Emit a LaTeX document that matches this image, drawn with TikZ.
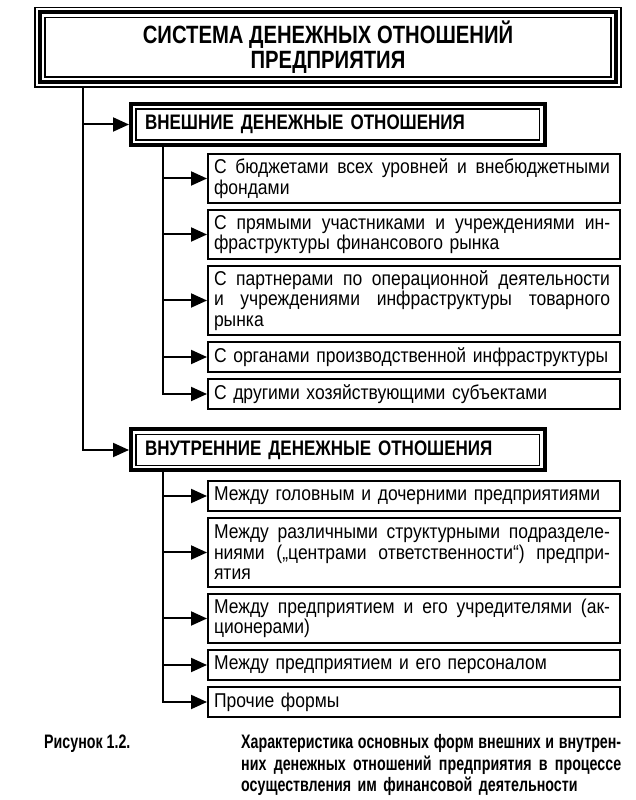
\documentclass[tikz,border=0pt]{standalone}
\usepackage{fontspec}
\setmainfont{Liberation Sans}
\newfontfamily\subfont[FakeStretch=0.875]{Liberation Sans}
\newfontfamily\bfam[FakeStretch=0.81]{Liberation Sans}
\newfontfamily\capfam[FakeStretch=0.73]{Liberation Sans}
\usetikzlibrary{arrows.meta}
\newcommand{\jline}[2][396pt]{\leavevmode\hbox to #1{\spaceskip=\fontdimen2\font plus 1fil\relax #2}}
\tikzset{
  subbox/.style={draw, line width=2pt, text width=400pt, inner xsep=6pt, inner ysep=0pt,
    align=left, font=\subfont\fontsize{20}{20.5}\selectfont},
  headbox/.style={draw, line width=4pt, minimum width=413.5pt, minimum height=41pt,
    text width=385.5pt, inner xsep=14pt, inner ysep=0pt, align=left,
    font=\bfam\bfseries\fontsize{21}{24}\selectfont},
  titlebox/.style={draw, line width=4pt, minimum width=576pt, minimum height=69.5pt,
    inner sep=0pt, align=center, font=\bfam\bfseries\fontsize{25}{25}\selectfont},
  thinframe/.style={line width=1.1pt},
  conn/.style={line width=2pt},
  arr/.style={line width=2pt, -{Triangle[length=16pt,width=14pt]}},
  captxt/.style={font=\capfam\bfseries\fontsize{19.5}{21.5}\selectfont, inner sep=0pt},
}
\begin{document}
\begin{tikzpicture}[x=1pt,y=1pt]
\useasboundingbox (0,0) rectangle (636,800);

% title
\node[titlebox] (title) at (328,752.75) {СИСТЕМА ДЕНЕЖНЫХ ОТНОШЕНИЙ\\ПРЕДПРИЯТИЯ};
\draw[thinframe] ([shift={(-3,3)}]title.north west) rectangle ([shift={(3,-3)}]title.south east);
\draw[thinframe] ([shift={(7,-7)}]title.north west) rectangle ([shift={(-7,7)}]title.south east);

% headings
\node[headbox] (ext) at (337.75,675.5) {ВНЕШНИЕ ДЕНЕЖНЫЕ ОТНОШЕНИЯ};
\draw[thinframe] ([shift={(7,-7)}]ext.north west) rectangle ([shift={(-7,7)}]ext.south east);
\node[headbox] (int) at (337.75,350) {ВНУТРЕННИЕ ДЕНЕЖНЫЕ ОТНОШЕНИЯ};
\draw[thinframe] ([shift={(7,-7)}]int.north west) rectangle ([shift={(-7,7)}]int.south east);

% external sub boxes
\node[subbox, minimum height=49pt] (e1) at (414,621.5) {\jline{С бюджетами всех уровней и внебюджетными}\\фондами};
\node[subbox, minimum height=49pt] (e2) at (414,565.5) {\jline{С прямыми участниками и учреждениями ин-}\\фраструктуры финансового рынка};
\node[subbox, minimum height=69pt] (e3) at (414,499.5) {\jline{С партнерами по операционной деятельности}\\\jline{и учреждениями инфраструктуры товарного}\\рынка};
\node[subbox, minimum height=30pt] (e4) at (414,443) {С органами производственной инфраструктуры};
\node[subbox, minimum height=30pt] (e5) at (414,406) {С другими хозяйствующими субъектами};

% internal sub boxes
\node[subbox, minimum height=30pt] (i1) at (414,304) {Между головным и дочерними предприятиями};
\node[subbox, minimum height=69pt] (i2) at (414,247.5) {\jline{Между различными структурными подразделе-}\\\jline{ниями („центрами ответственности“) предпри-}\\ятия};
\node[subbox, minimum height=49pt] (i3) at (414,181.5) {\jline{Между предприятием и его учредителями (ак-}\\ционерами)};
\node[subbox, minimum height=30pt] (i4) at (414,135) {Между предприятием и его персоналом};
\node[subbox, minimum height=30pt] (i5) at (414,98) {Прочие формы};

% trunks
\coordinate (t0) at (83,713);
\coordinate (b1) at (163,653);
\coordinate (b2) at (163,328);
\draw[arr] (t0) -- (t0 |- int.west) -- (int.west);
\draw[arr] (t0 |- ext.west) -- (ext.west);

\draw[arr] (ext.south -| b1) -- (b1 |- e5.west) -- (e5.west);
\foreach \n in {e1,e2,e3,e4} \draw[arr] (b1 |- \n.west) -- (\n.west);

\draw[arr] (int.south -| b2) -- (b2 |- i5.west) -- (i5.west);
\foreach \n in {i1,i2,i3,i4} \draw[arr] (b2 |- \n.west) -- (\n.west);

% caption
\node[captxt, anchor=base west] (caplabel) at (44,51) {Рисунок 1.2.};
\node[captxt, anchor=base west, text width=380pt, align=left] (captext) at (241,51)
  {\jline[380pt]{Характеристика основных форм внешних и внутрен-}\\\jline[380pt]{них денежных отношений предприятия в процессе}\\осуществления им финансовой деятельности};
\end{tikzpicture}
\end{document}
